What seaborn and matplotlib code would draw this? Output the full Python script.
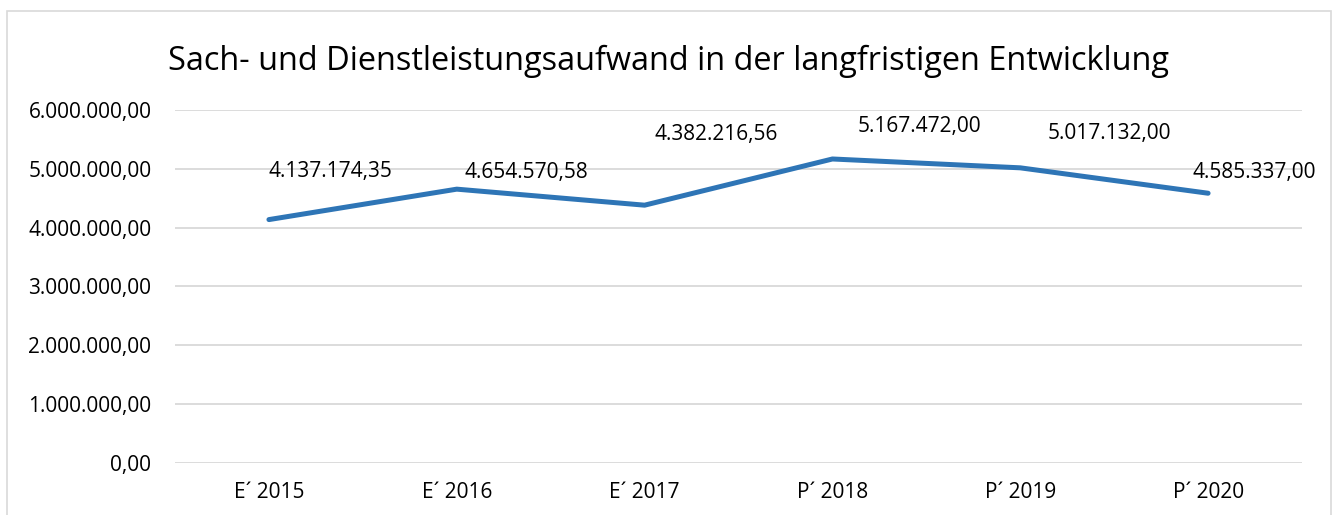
import matplotlib
matplotlib.use("Agg")
import matplotlib.pyplot as plt
import matplotlib.ticker as mticker
from matplotlib.patches import Rectangle
import seaborn as sns
import pandas as pd

# Data
categories = ["E\u00b4 2015", "E\u00b4 2016", "E\u00b4 2017", "P\u00b4 2018", "P\u00b4 2019", "P\u00b4 2020"]
values = [4137174.35, 4654570.58, 4382216.56, 5167472.00, 5017132.00, 4585337.00]
y_ticks = [0, 1000000, 2000000, 3000000, 4000000, 5000000, 6000000]

# label offsets in pixels (Excel-like placement)
label_offsets = [(62, 48), (70, 17), (72, 71), (87, 32), (89, 34), (46, 21)]


def de_format(v, pos=None):
    s = f"{v:,.2f}"
    return s.replace(",", "X").replace(".", ",").replace("X", ".")


df = pd.DataFrame({"cat": categories, "val": values, "x": range(len(categories))})

sns.set_style("white")
plt.rcParams["font.family"] = ["Open Sans", "DejaVu Sans"]

fig = plt.figure(figsize=(13.38, 5.15), dpi=100)
ax = fig.add_axes([0.1308, 0.101, 0.8423, 0.6854])

sns.lineplot(data=df, x="x", y="val", ax=ax, color="#2E75B6", linewidth=3.6,
             solid_capstyle="round", solid_joinstyle="round")

ax.set_xlim(-0.5, len(categories) - 0.5)
ax.set_ylim(0, 6000000)
ax.set_yticks(y_ticks)
ax.yaxis.set_major_formatter(mticker.FuncFormatter(de_format))
ax.set_xticks(range(len(categories)))
ax.set_xticklabels(categories)
ax.grid(axis="y", color="#D9D9D9", linewidth=1.3)
ax.grid(axis="x", visible=False)
ax.set_axisbelow(True)
for s in ax.spines.values():
    s.set_visible(False)
ax.tick_params(axis="both", length=0, labelsize=15, colors="black")
ax.tick_params(axis="x", pad=14)
ax.tick_params(axis="y", pad=17)
ax.set_xlabel("")
ax.set_ylabel("")

for i, v in enumerate(values):
    dx, dy = label_offsets[i]
    ax.annotate(de_format(v), (i, v), xytext=(dx * 0.72, dy * 0.72),
                textcoords="offset points", ha="center", va="center",
                fontsize=15, color="black")

fig.text(0.5, 0.88, "Sach- und Dienstleistungsaufwand in der langfristigen Entwicklung",
         ha="center", va="center", fontsize=23.4, color="black")

fig.patches.append(Rectangle((7 / 1338, -0.05), 1324 / 1338, 1 - 11 / 515 + 0.05,
                             transform=fig.transFigure, fill=False,
                             edgecolor="#D9D9D9", linewidth=1.2))

fig.savefig("out.png", dpi=100)
